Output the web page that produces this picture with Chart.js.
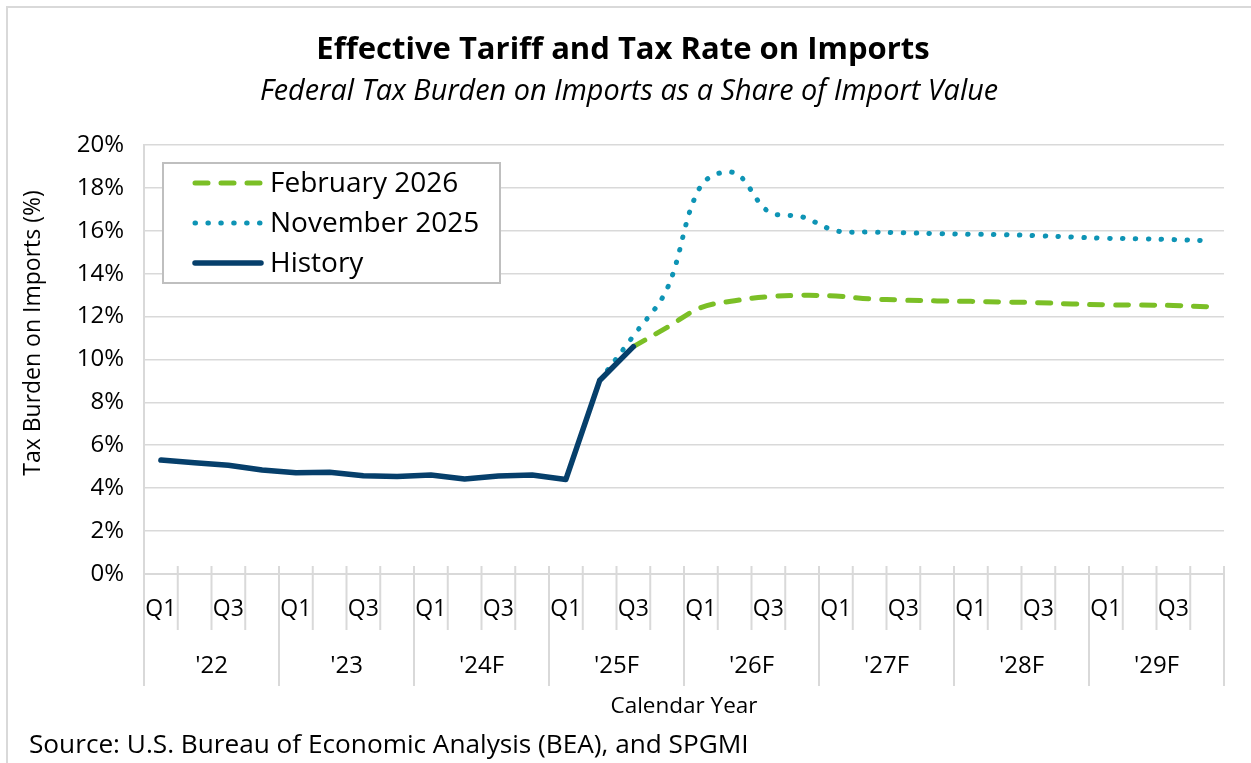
<!DOCTYPE html>
<html>
<head>
<meta charset="utf-8">
<title>Effective Tariff and Tax Rate on Imports</title>
<script src="https://cdn.jsdelivr.net/npm/chart.js@4.4.1/dist/chart.umd.min.js"></script>
<style>
  html, body { margin: 0; padding: 0; background: #fff; }
  canvas { display: block; }
</style>
</head>
<body>
<canvas id="tariffChart" width="1251" height="763"></canvas>
<script>
// Quarterly effective tariff + tax rate on imports, % of import value
const years = ["'22", "'23", "'24F", "'25F", "'26F", "'27F", "'28F", "'29F"];
const quarterNames = ['Q1', 'Q2', 'Q3', 'Q4'];

const history = [
  5.31, 5.19, 5.07, 4.85,
  4.72, 4.74, 4.58, 4.54,
  4.62, 4.43, 4.57, 4.62,
  4.41, 9.02, 10.6, null,
  null, null, null, null,
  null, null, null, null,
  null, null, null, null,
  null, null, null, null
];
const nov2025 = [
  null, null, null, null,
  null, null, null, null,
  null, null, null, null,
  null, 9.02, 11.1, 13.3,
  18.1, 18.7, 16.9, 16.65,
  16.0, 15.94, 15.91, 15.87,
  15.84, 15.82, 15.77, 15.71,
  15.65, 15.63, 15.59, 15.54
];
const feb2026 = [
  null, null, null, null,
  null, null, null, null,
  null, null, null, null,
  null, null, 10.6, 11.5,
  12.42, 12.74, 12.93, 12.99,
  12.96, 12.83, 12.77, 12.73,
  12.71, 12.68, 12.65, 12.59,
  12.55, 12.54, 12.52, 12.46
];

const labels = years.flatMap(() => quarterNames);
const FONT = '"Open Sans", "DejaVu Sans", sans-serif';
const GRID = '#d9d9d9';

// titles, year groups, tick marks, legend box and footnotes
const decorations = {
  id: 'decorations',
  afterDraw(chart) {
    const { ctx, chartArea, scales } = chart;
    const x = scales.x;
    const step = x.getPixelForValue(1) - x.getPixelForValue(0);
    const bottom = chartArea.bottom;

    ctx.save();

    // outer frame
    ctx.strokeStyle = GRID;
    ctx.lineWidth = 2;
    ctx.strokeRect(7, 7, 1300, 900);

    // quarter ticks and year separators
    ctx.lineWidth = 2;
    for (let k = 0; k <= labels.length; k++) {
      const px = x.getPixelForValue(0) - step / 2 + k * step;
      ctx.beginPath();
      ctx.moveTo(px, bottom - 8);
      ctx.lineTo(px, k % 4 === 0 ? bottom + 112 : bottom + 56);
      ctx.stroke();
    }

    ctx.fillStyle = '#000';
    ctx.textAlign = 'center';
    ctx.textBaseline = 'middle';
    ctx.font = '24px ' + FONT;
    years.forEach((yr, i) => {
      const cx = (x.getPixelForValue(i * 4) + x.getPixelForValue(i * 4 + 3)) / 2;
      ctx.fillText(yr, cx, bottom + 92);
    });

    ctx.font = '22.5px ' + FONT;
    ctx.fillText('Calendar Year', (chartArea.left + chartArea.right) / 2, 707);

    ctx.font = 'bold 31px ' + FONT;
    ctx.fillText('Effective Tariff and Tax Rate on Imports', 623, 50);
    ctx.font = 'italic 28.8px ' + FONT;
    ctx.fillText('Federal Tax Burden on Imports as a Share of Import Value', 629, 92);

    // y axis title
    ctx.save();
    ctx.translate(33, 333);
    ctx.rotate(-Math.PI / 2);
    ctx.font = '23px ' + FONT;
    ctx.fillText('Tax Burden on Imports (%)', 0, 0);
    ctx.restore();

    ctx.textAlign = 'left';
    ctx.font = '26.2px ' + FONT;
    ctx.fillText('Source: U.S. Bureau of Economic Analysis (BEA), and SPGMI', 29, 746);

    // legend
    const box = { l: 163, t: 163, r: 500, b: 283 };
    ctx.fillStyle = '#fff';
    ctx.fillRect(box.l, box.t, box.r - box.l, box.b - box.t);
    ctx.strokeStyle = '#bfbfbf';
    ctx.lineWidth = 2;
    ctx.strokeRect(box.l, box.t, box.r - box.l, box.b - box.t);

    chart.data.datasets.forEach((ds, i) => {
      const cy = 183 + i * 40;
      ctx.save();
      ctx.strokeStyle = ds.borderColor;
      ctx.lineWidth = ds.borderWidth;
      ctx.lineCap = 'round';
      ctx.setLineDash(ds.borderDash || []);
      ctx.beginPath();
      ctx.moveTo(195, cy);
      ctx.lineTo(261, cy);
      ctx.stroke();
      ctx.restore();
      ctx.fillStyle = '#000';
      ctx.font = '28px ' + FONT;
      ctx.fillText(ds.label, 270, cy + 1);
    });

    ctx.restore();
  }
};

new Chart(document.getElementById('tariffChart'), {
  type: 'line',
  data: {
    labels,
    datasets: [
      {
        label: 'February 2026',
        data: feb2026,
        borderColor: '#7bbf26',
        borderWidth: 5,
        borderDash: [13, 13],
        borderCapStyle: 'round',
        tension: 0.35,
        order: 1
      },
      {
        label: 'November 2025',
        data: nov2025,
        borderColor: '#0e94b5',
        borderWidth: 5,
        borderDash: [0.5, 12.4],
        borderCapStyle: 'round',
        tension: 0.35,
        order: 2
      },
      {
        label: 'History',
        data: history,
        borderColor: '#063f6b',
        borderWidth: 5.5,
        borderCapStyle: 'round',
        borderJoinStyle: 'round',
        tension: 0,
        order: 0
      }
    ]
  },
  options: {
    responsive: false,
    animation: false,
    elements: { point: { radius: 0 } },
    layout: { padding: { top: 145, right: 27, bottom: 0, left: 0 } },
    scales: {
      x: {
        type: 'category',
        offset: true,
        grid: { display: true, drawOnChartArea: false, drawTicks: false },
        border: { display: true, color: GRID, width: 2 },
        ticks: {
          autoSkip: false,
          maxRotation: 0,
          padding: 22,
          color: '#000',
          font: { family: FONT, size: 23 },
          callback: (v, i) => (i % 2 === 0 ? labels[i] : '')
        },
        afterFit: (scale) => { scale.height = 189; }
      },
      y: {
        min: 0,
        max: 20,
        grid: { color: GRID, lineWidth: 1.6, drawTicks: false },
        border: { display: true, color: GRID, width: 2 },
        ticks: {
          stepSize: 2,
          padding: 20,
          color: '#000',
          font: { family: FONT, size: 24 },
          callback: (v) => v + '%'
        },
        afterFit: (scale) => { scale.width = 144; }
      }
    },
    plugins: {
      legend: { display: false },
      tooltip: { enabled: false }
    }
  },
  plugins: [decorations]
});
</script>
</body>
</html>
